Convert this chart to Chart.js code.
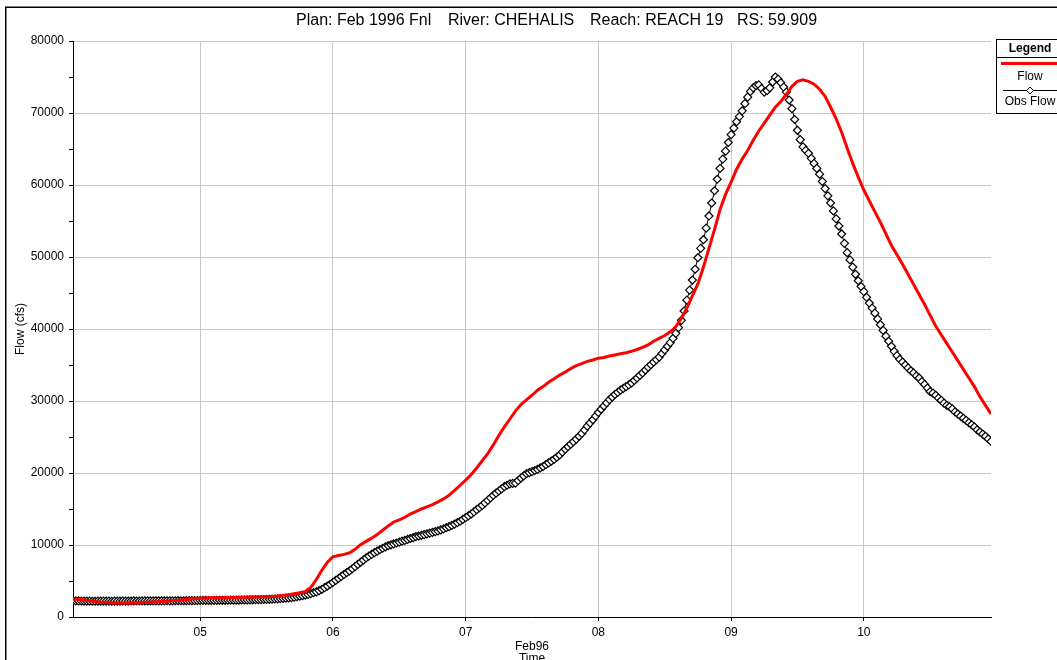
<!DOCTYPE html>
<html>
<head>
<meta charset="utf-8">
<title>CHEHALIS REACH 19 RS 59.909</title>
<script src="https://cdn.jsdelivr.net/npm/chart.js@4.4.1/dist/chart.umd.min.js"></script>
<style>
  html, body { margin: 0; padding: 0; background: #fff; overflow: hidden; }
  #wrap { width: 1057px; height: 660px; overflow: hidden; }
</style>
</head>
<body>
<div id="wrap"><canvas id="chart" width="1057" height="664"></canvas></div>
<script>
// Feb 4 01:00 through Feb 10 23:00 (1996), x in days of February
const startDay = 4 + 1 / 24;
const endDay = 10 + 23 / 24;

const dayTicks = [5, 6, 7, 8, 9, 10];
const dayLabels = ["05", "06", "07", "08", "09", "10"];

// computed flow (cfs), hourly
const flow = [
  2500, 2450, 2350, 2250, 2150, 2050, 2000, 1970, 1950, 1950,
  1950, 1960, 1980, 2020, 2070, 2110, 2150, 2190, 2250, 2320,
  2400, 2470, 2550, 2620, 2650, 2670, 2680, 2690, 2700, 2720,
  2740, 2760, 2780, 2790, 2800, 2820, 2860, 2920, 3000, 3100,
  3230, 3370, 3550, 4100, 5200, 6500, 7600, 8350, 8550, 8700,
  8900, 9400, 10050, 10500, 10950, 11450, 12050, 12650, 13200, 13500,
  13850, 14300, 14650, 15000, 15300, 15600, 16000, 16400, 16900, 17600,
  18300, 19000, 19800, 20700, 21700, 22700, 23900, 25200, 26400, 27500,
  28600, 29500, 30150, 30800, 31500, 32000, 32600, 33100, 33600, 34000,
  34500, 34900, 35200, 35500, 35700, 35950, 36050, 36250, 36400, 36550,
  36700, 36900, 37150, 37450, 37800, 38300, 38700, 39100, 39600, 40300,
  41500, 42900, 44600, 46300, 48600, 51200, 53800, 56600, 58700, 60400,
  62200, 63600, 64800, 66200, 67500, 68600, 69700, 70800, 71600, 72600,
  73700, 74400, 74600, 74400, 74000, 73300, 72300, 70800, 69200, 67300,
  65100, 63000, 61100, 59300, 57800, 56300, 54800, 53200, 51600, 50300,
  49000, 47600, 46200, 44800, 43400, 41900, 40400, 39200, 38000, 36800,
  35600, 34400, 33200, 32000, 30600, 29400, 28200
];

// observed flow (cfs), half-hourly
const obsFlow = [
  2250, 2240, 2230, 2220, 2210, 2200, 2200, 2190, 2190, 2200,
  2200, 2210, 2210, 2200, 2190, 2200, 2200, 2210, 2220, 2210,
  2210, 2220, 2230, 2220, 2220, 2230, 2240, 2230, 2230, 2240,
  2250, 2240, 2240, 2250, 2260, 2250, 2250, 2260, 2270, 2260,
  2260, 2270, 2280, 2270, 2270, 2280, 2290, 2300, 2300, 2290,
  2290, 2300, 2310, 2320, 2320, 2320, 2330, 2340, 2340, 2340,
  2350, 2360, 2370, 2370, 2380, 2390, 2400, 2410, 2420, 2430,
  2440, 2460, 2480, 2500, 2520, 2550, 2580, 2610, 2650, 2700,
  2750, 2810, 2880, 2960, 3050, 3150, 3250, 3370, 3500, 3670,
  3850, 4070, 4300, 4550, 4800, 5080, 5350, 5630, 5900, 6150,
  6400, 6700, 7000, 7300, 7600, 7900, 8200, 8460, 8700, 8930,
  9150, 9360, 9550, 9730, 9900, 10030, 10150, 10280, 10400, 10530,
  10650, 10780, 10900, 11030, 11150, 11250, 11350, 11450, 11550, 11650,
  11750, 11850, 11950, 12100, 12250, 12400, 12550, 12720, 12900, 13100,
  13300, 13550, 13800, 14050, 14300, 14600, 14900, 15200, 15500, 15850,
  16200, 16550, 16900, 17200, 17500, 17800, 18100, 18300, 18500, 18550,
  18600, 18950, 19300, 19600, 19900, 20050, 20200, 20350, 20500, 20700,
  20900, 21150, 21400, 21650, 21900, 22200, 22500, 22900, 23300, 23650,
  24000, 24350, 24700, 25100, 25500, 26000, 26500, 26950, 27400, 27900,
  28400, 28850, 29300, 29750, 30200, 30550, 30900, 31200, 31500, 31750,
  32000, 32250, 32500, 32850, 33200, 33550, 33900, 34300, 34700, 35050,
  35400, 35750, 36100, 36600, 37100, 37600, 38100, 38700, 39400, 40200,
  41200, 42500, 44000, 45400, 46800, 48300, 49900, 51200, 52400, 54000,
  55700, 57500, 59200, 60800, 62300, 63600, 64700, 65900, 67000, 67900,
  68800, 69500, 70300, 71300, 72200, 73000, 73500, 73800, 73900, 73400,
  72900, 73100, 73500, 74300, 75000, 74700, 74200, 73600, 72900, 71800,
  70600, 69100, 67600, 66300, 65300, 64800, 64400, 63700, 63000, 62300,
  61500, 60500, 59500, 58500, 57500, 56400, 55300, 54300, 53200, 51900,
  50600, 49600, 48600, 47600, 46700, 45900, 45200, 44400, 43600, 42900,
  42200, 41400, 40600, 39800, 39000, 38300, 37600, 36900, 36300, 35800,
  35400, 35000, 34600, 34200, 33900, 33500, 33200, 32700, 32300, 31800,
  31300, 31100, 30800, 30400, 30100, 29700, 29400, 29200, 28900, 28500,
  28200, 27900, 27600, 27300, 27000, 26700, 26400, 26000, 25700, 25400,
  25100, 24750, 24400
];

const toPoints = (arr, perDay) => arr.map((v, i) => ({ x: startDay + i / perDay, y: v }));

// title pieces with their left x
const titleParts = [
  ["Plan: Feb 1996 Fnl", 296],
  ["River: CHEHALIS", 448],
  ["Reach: REACH 19", 590],
  ["RS: 59.909", 737]
];

// outer frame, plot title and the boxed legend on the right
const decorations = {
  id: "decorations",
  afterDraw(chart) {
    const ctx = chart.ctx;
    ctx.save();
    ctx.strokeStyle = "#000";
    ctx.lineWidth = 1.5;
    ctx.strokeRect(5.75, 7.25, 1200, 700);

    ctx.fillStyle = "#000";
    ctx.font = "16px Arial, 'Liberation Sans'";
    ctx.textAlign = "left";
    ctx.textBaseline = "middle";
    titleParts.forEach(([text, x]) => ctx.fillText(text, x, 20.5));

    // legend box
    ctx.textAlign = "center";
    ctx.lineWidth = 1;
    ctx.strokeRect(996.5, 39.5, 68, 74);
    ctx.beginPath();
    ctx.moveTo(996, 57.5);
    ctx.lineTo(1065, 57.5);
    ctx.stroke();
    ctx.font = "bold 12px Arial, 'Liberation Sans'";
    ctx.fillText("Legend", 1030, 49);

    ctx.strokeStyle = "#ff0000";
    ctx.lineWidth = 3;
    ctx.beginPath();
    ctx.moveTo(1001, 63.5);
    ctx.lineTo(1065, 63.5);
    ctx.stroke();
    ctx.font = "12px Arial, 'Liberation Sans'";
    ctx.fillText("Flow", 1030, 77);

    ctx.strokeStyle = "#000";
    ctx.lineWidth = 1;
    ctx.beginPath();
    ctx.moveTo(1003, 90.5);
    ctx.lineTo(1057, 90.5);
    ctx.stroke();
    ctx.fillStyle = "#fff";
    ctx.beginPath();
    ctx.moveTo(1030, 87);
    ctx.lineTo(1033.5, 90.5);
    ctx.lineTo(1030, 94);
    ctx.lineTo(1026.5, 90.5);
    ctx.closePath();
    ctx.fill();
    ctx.stroke();
    ctx.fillStyle = "#000";
    ctx.fillText("Obs Flow", 1030, 101.5);
    ctx.restore();
  }
};

const tickFont = { family: "Arial, 'Liberation Sans'", size: 12 };

new Chart("chart", {
  type: "line",
  data: {
    datasets: [
      {
        label: "Flow",
        data: toPoints(flow, 24),
        borderColor: "#ff0000",
        borderWidth: 3,
        pointRadius: 0,
        fill: false
      },
      {
        label: "Obs Flow",
        data: toPoints(obsFlow, 48),
        borderColor: "#000",
        borderWidth: 1,
        pointStyle: "rectRot",
        pointRadius: 4,
        pointBorderWidth: 1.2,
        pointBorderColor: "#000",
        pointBackgroundColor: "#fff",
        fill: false
      }
    ]
  },
  options: {
    responsive: false,
    animation: false,
    events: [],
    layout: { padding: { left: 0, top: 41, right: 66, bottom: 0 } },
    plugins: {
      legend: { display: false },
      title: { display: false },
      tooltip: { enabled: false }
    },
    scales: {
      x: {
        type: "linear",
        min: startDay,
        max: endDay,
        afterBuildTicks: (scale) => {
          scale.ticks = dayTicks.map((v) => ({ value: v }));
        },
        afterFit: (scale) => { scale.height = 47; },
        ticks: {
          callback: (value, index) => dayLabels[index],
          font: tickFont,
          color: "#000",
          padding: 4,
          maxRotation: 0
        },
        grid: { color: "#c8c8c8", tickColor: "#000", tickLength: 4 },
        border: { color: "#000", width: 1 },
        title: {
          display: true,
          text: ["Feb96", "Time"],
          color: "#000",
          font: { family: "Arial, 'Liberation Sans'", size: 12, lineHeight: 0.95 },
          padding: { top: 0, bottom: 0 }
        }
      },
      y: {
        min: 0,
        max: 80000,
        afterFit: (scale) => { scale.width = 73; },
        ticks: {
          stepSize: 5000,
          callback: (value) => (value % 10000 === 0 ? String(value) : ""),
          font: tickFont,
          color: "#000",
          padding: 5
        },
        grid: {
          color: (c) => (c.tick && c.tick.value % 10000 === 0 ? "#c8c8c8" : "rgba(0,0,0,0)"),
          tickColor: "#000",
          tickLength: 4
        },
        border: { color: "#000", width: 1 },
        title: {
          display: true,
          text: "Flow (cfs)",
          color: "#000",
          font: { family: "Arial, 'Liberation Sans'", size: 12 },
          padding: { top: 13, bottom: 0 }
        }
      }
    }
  },
  plugins: [decorations]
});
</script>
</body>
</html>
